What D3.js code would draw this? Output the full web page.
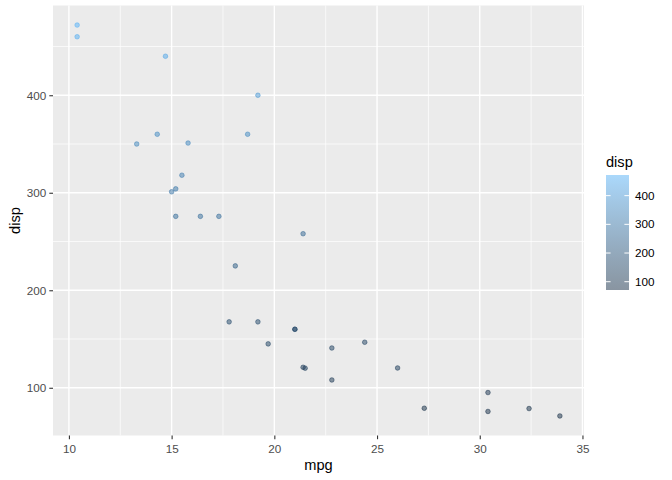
<!DOCTYPE html>
<html>
<head>
<meta charset="utf-8">
<script src="https://cdn.jsdelivr.net/npm/d3@7"></script>
<style>
  body { margin: 0; background: #fff; }
  text { font-family: "Liberation Sans", Arial, sans-serif; }
</style>
</head>
<body>
<div id="chart"></div>
<script>
// mtcars: mpg vs disp
const mpg = [21.0, 21.0, 22.8, 21.4, 18.7, 18.1, 14.3, 24.4, 22.8, 19.2, 17.8,
  16.4, 17.3, 15.2, 10.4, 10.4, 14.7, 32.4, 30.4, 33.9, 21.5, 15.5, 15.2, 13.3,
  19.2, 27.3, 26.0, 30.4, 15.8, 19.7, 15.0, 21.4];
const disp = [160, 160, 108, 258, 360, 225, 360, 146.7, 140.8, 167.6, 167.6,
  275.8, 275.8, 275.8, 472, 460, 440, 78.7, 75.7, 71.1, 120.1, 318, 304, 350,
  400, 79, 120.3, 95.1, 351, 145, 301, 121];
const xTicks = [10, 15, 20, 25, 30, 35];
const xMinor = [12.5, 17.5, 22.5, 27.5, 32.5];
const yTicks = [100, 200, 300, 400];
const yMinor = [150, 250, 350, 450];
const legendTicks = [100, 200, 300, 400];

const W = 672, H = 480;
const panel = { left: 53, right: 584, top: 5.5, bottom: 435.5 };

const svg = d3.select('#chart').append('svg')
  .attr('width', W).attr('height', H);

function expand(ext) {
  const pad = (ext[1] - ext[0]) * 0.05;
  return [ext[0] - pad, ext[1] + pad];
}

const x = d3.scaleLinear().domain(expand(d3.extent(mpg)))
  .range([panel.left, panel.right]);
const y = d3.scaleLinear().domain(expand(d3.extent(disp)))
  .range([panel.bottom, panel.top]);
const color = d3.scaleLinear().domain(d3.extent(disp))
  .range(['#132B43', '#56B1F7']).interpolate(d3.interpolateLab);

// panel
svg.append('rect')
  .attr('x', panel.left).attr('y', panel.top)
  .attr('width', panel.right - panel.left)
  .attr('height', panel.bottom - panel.top)
  .attr('fill', '#EBEBEB');

const grid = svg.append('g').attr('stroke', '#fff');
grid.selectAll('.xm').data(xMinor).enter().append('line')
  .attr('x1', d => x(d)).attr('x2', d => x(d))
  .attr('y1', panel.top).attr('y2', panel.bottom)
  .attr('stroke-width', 0.7);
grid.selectAll('.ym').data(yMinor).enter().append('line')
  .attr('y1', d => y(d)).attr('y2', d => y(d))
  .attr('x1', panel.left).attr('x2', panel.right)
  .attr('stroke-width', 0.7);
grid.selectAll('.xM').data(xTicks).enter().append('line')
  .attr('x1', d => x(d)).attr('x2', d => x(d))
  .attr('y1', panel.top).attr('y2', panel.bottom)
  .attr('stroke-width', 1.4);
grid.selectAll('.yM').data(yTicks).enter().append('line')
  .attr('y1', d => y(d)).attr('y2', d => y(d))
  .attr('x1', panel.left).attr('x2', panel.right)
  .attr('stroke-width', 1.4);

// points
svg.append('g').selectAll('circle')
  .data(mpg.map((m, i) => ({ m, d: disp[i] })))
  .enter().append('circle')
  .attr('cx', p => x(p.m))
  .attr('cy', p => y(p.d))
  .attr('r', 2.3)
  .attr('fill', p => color(p.d))
  .attr('fill-opacity', 0.5)
  .attr('stroke', p => color(p.d))
  .attr('stroke-opacity', 0.5)
  .attr('stroke-width', 1);

// axes
const xAxis = svg.append('g')
  .attr('transform', `translate(0,${panel.bottom})`)
  .call(d3.axisBottom(x).tickValues(xTicks).tickSize(3.7).tickPadding(3));
const yAxis = svg.append('g')
  .attr('transform', `translate(${panel.left},0)`)
  .call(d3.axisLeft(y).tickValues(yTicks).tickSize(3.7).tickPadding(3));
[xAxis, yAxis].forEach(a => {
  a.select('.domain').remove();
  a.selectAll('.tick line').attr('stroke', '#333').attr('stroke-width', 1.1);
  a.selectAll('.tick text').attr('fill', '#4D4D4D')
    .style('font-size', '11.7px');
});
xAxis.selectAll('.tick text').attr('dy', '0.95em');

svg.append('text')
  .attr('x', (panel.left + panel.right) / 2).attr('y', 470)
  .attr('text-anchor', 'middle').style('font-size', '14.6px')
  .text('mpg');
svg.append('text')
  .attr('transform', `translate(20,${(panel.top + panel.bottom) / 2}) rotate(-90)`)
  .attr('text-anchor', 'middle').style('font-size', '14.6px')
  .text('disp');

// legend colourbar
const bar = { left: 606, right: 629, top: 175, bottom: 290 };
const ly = d3.scaleLinear().domain(d3.extent(disp))
  .range([bar.bottom, bar.top]);
const defs = svg.append('defs');
const grad = defs.append('linearGradient').attr('id', 'g')
  .attr('x1', 0).attr('y1', 1).attr('x2', 0).attr('y2', 0);
d3.range(0, 1.0001, 0.05).forEach(t => {
  const v = d3.extent(disp)[0] + t * (d3.extent(disp)[1] - d3.extent(disp)[0]);
  grad.append('stop').attr('offset', t).attr('stop-color', color(v))
    .attr('stop-opacity', 0.5);
});
svg.append('rect')
  .attr('x', bar.left).attr('y', bar.top)
  .attr('width', bar.right - bar.left).attr('height', bar.bottom - bar.top)
  .attr('fill', 'url(#g)');
const lt = svg.append('g');
lt.selectAll('.l').data(legendTicks).enter().append('line')
  .attr('x1', bar.left).attr('x2', bar.left + 4.6)
  .attr('y1', d => ly(d)).attr('y2', d => ly(d))
  .attr('stroke', '#fff').attr('stroke-width', 1);
lt.selectAll('.r').data(legendTicks).enter().append('line')
  .attr('x1', bar.right - 4.6).attr('x2', bar.right)
  .attr('y1', d => ly(d)).attr('y2', d => ly(d))
  .attr('stroke', '#fff').attr('stroke-width', 1);
lt.selectAll('text').data(legendTicks).enter().append('text')
  .attr('x', 635).attr('y', d => ly(d)).attr('dy', '0.35em')
  .style('font-size', '11.7px').attr('fill', '#000')
  .text(d => d);
svg.append('text')
  .attr('x', 606).attr('y', 167)
  .style('font-size', '14.6px')
  .text('disp');
</script>
</body>
</html>
